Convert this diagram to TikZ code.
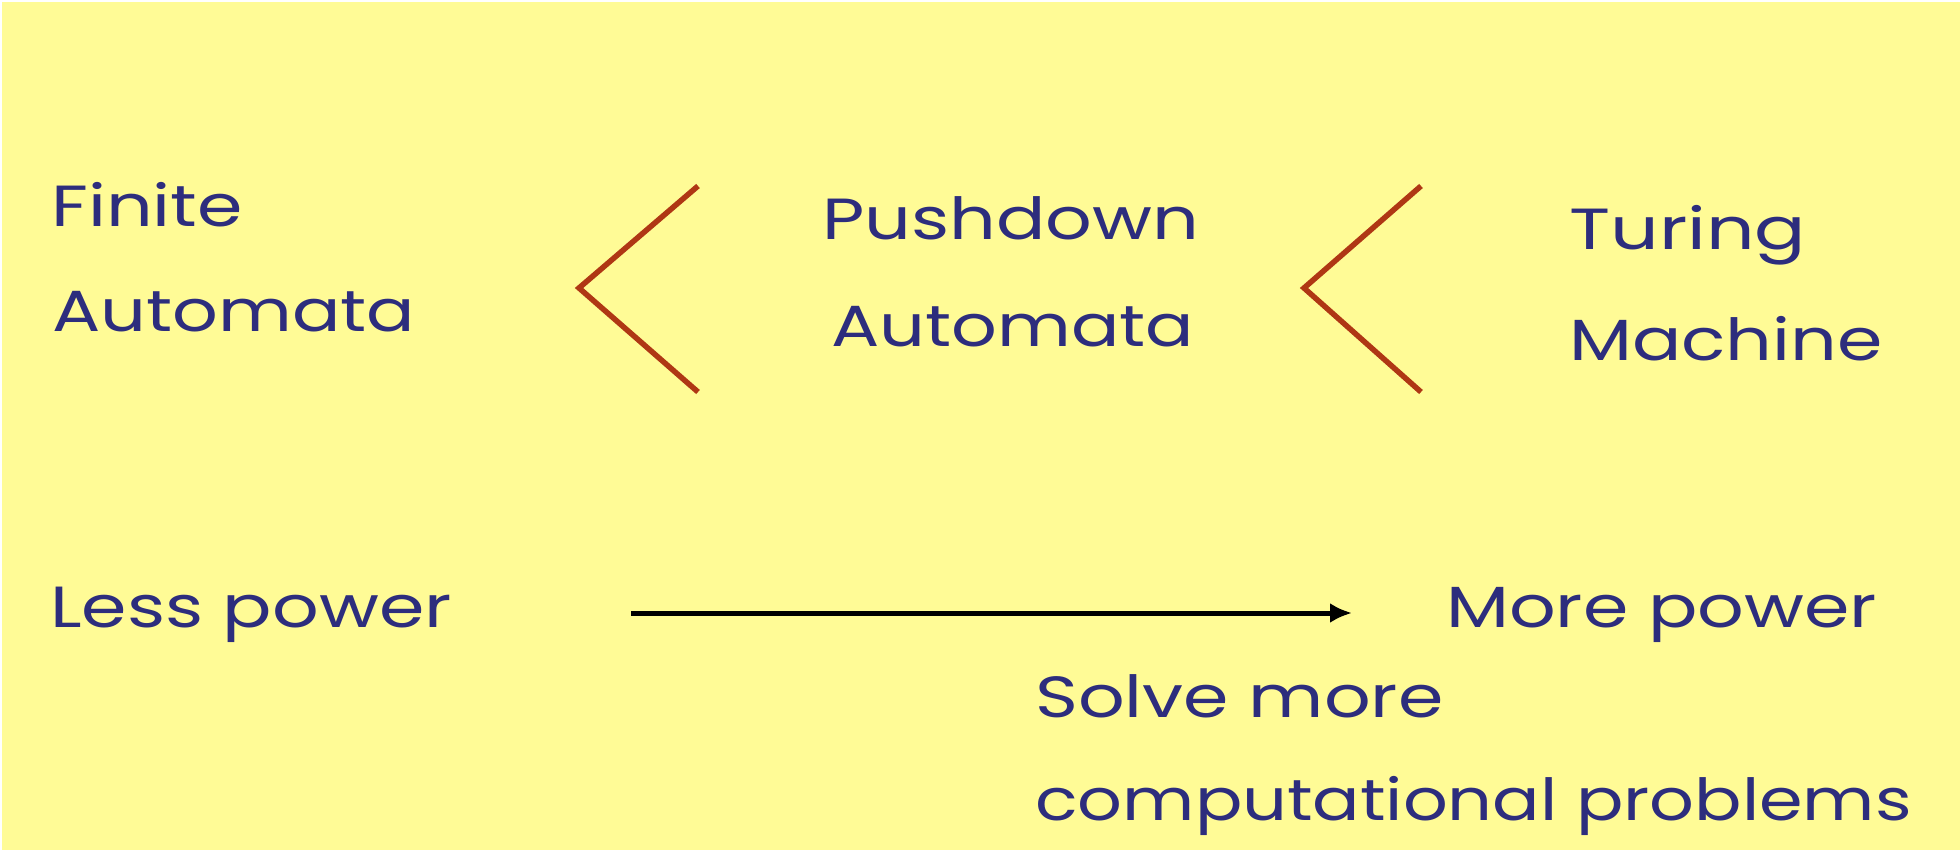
\documentclass[tikz,border=0pt]{standalone}
\usepackage{fontspec}
\setmainfont{Poppins}
\usetikzlibrary{arrows.meta}
\definecolor{bgyellow}{RGB}{255,251,150}
\definecolor{txtblue}{RGB}{45,45,125}
\definecolor{chev}{RGB}{175,55,20}
\tikzset{
  lbl/.style={anchor=base west, inner sep=0pt, text=txtblue, xscale=1.26, font=\fontsize{58}{64}\selectfont},
  chevron/.style={draw=chev, line width=5.5pt, line join=miter},
  powerarrow/.style={draw=black, line width=5pt, -{Latex[length=22pt,width=20pt]}}
}
\begin{document}
\begin{tikzpicture}[x=1pt,y=-1pt]
\useasboundingbox (0,0) rectangle (1960,850);
\fill[white] (0,0) rectangle (1960,850);
\fill[bgyellow] (2,2) rectangle (1960,850);
% top row
\node[lbl] (fin1) at (51,227) {Finite};
\node[lbl, xscale=0.98] (fin2) at (52,332) {Automata};
\node[lbl] (pd1) at (822,240) {Pushdown};
\node[lbl, xscale=0.98] (pd2) at (831,346) {Automata};
\node[lbl, xscale=1.04] (tm1) at (1569,250) {Turing};
\node[lbl] (tm2) at (1569,360) {Machine};
% chevrons
\coordinate (c1t) at (698,186);
\coordinate (c1v) at (579,288);
\coordinate (c1b) at (698,392);
\coordinate (c2t) at (1421,186);
\coordinate (c2v) at (1304,288);
\coordinate (c2b) at (1421,392);
\draw[chevron] (c1t) -- (c1v) -- (c1b);
\draw[chevron] (c2t) -- (c2v) -- (c2b);
% bottom
\node[lbl] (less) at (50,627) {Less power};
\node[lbl] (more) at (1446,627) {More power};
\coordinate (as) at (631,613);
\coordinate (ae) at (1352,613);
\draw[powerarrow] (as) -- (ae);
\node[lbl] (solve) at (1035,717) {Solve more};
\node[lbl, xscale=0.96] (comp) at (1035,820) {computational problems};
\end{tikzpicture}
\end{document}
